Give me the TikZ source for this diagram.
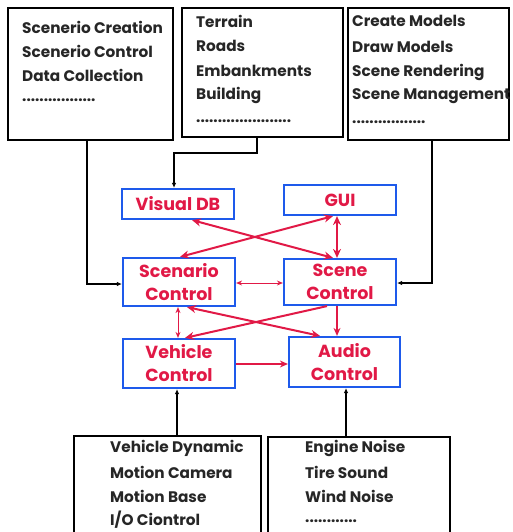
\documentclass[tikz,border=0pt]{standalone}
\usepackage{fontspec}
\setmainfont{Poppins}
\usetikzlibrary{arrows.meta}
\definecolor{rd}{RGB}{225,25,70}
\definecolor{bl}{RGB}{30,90,235}
\tikzset{
  infobox/.style={draw=black,line width=1.6pt,inner sep=0pt},
  item/.style={anchor=west,inner sep=0pt,font=\fontsize{15.3}{16}\selectfont\bfseries,text=black!85},
  modbox/.style={draw=bl,line width=2.2pt,inner sep=0pt,align=center,text=rd,font=\fontsize{17.5}{23}\selectfont\bfseries},
  blk/.style={draw=black,line width=1.2pt,-{Latex[length=5pt,width=4.5pt]}},
  rdd/.style={draw=rd,line width=2pt,{Stealth[length=9pt,width=8pt]}-{Stealth[length=9pt,width=8pt]}},
  rdt/.style={draw=rd,line width=1pt,{Stealth[length=6pt,width=5pt]}-{Stealth[length=6pt,width=5pt]}},
  rds/.style={draw=rd,line width=2pt,-{Stealth[length=9pt,width=8pt]}},
  rdst/.style={draw=rd,line width=1.2pt,-{Stealth[length=8pt,width=7pt]}},
}
\begin{document}
\begin{tikzpicture}[x=1pt,y=-1pt]
\useasboundingbox (0,0) rectangle (512,532);
% top boxes
\node[infobox,minimum width=165pt,minimum height=132pt] (tl) at (90.5,74) {};
\node[infobox,minimum width=161pt,minimum height=129pt] (tm) at (262.5,72.5) {};
\node[infobox,minimum width=161pt,minimum height=132pt] (tr) at (428.5,74) {};
\node[item] (a1) at (22,27) {Scenerio Creation};
\node[item] (a2) at (22,51) {Scenerio Control};
\node[item] (a3) at (22,75) {Data Collection};
\node[item] (a4) at (22,100) {.................};
\node[item] (b1) at (196,21) {Terrain};
\node[item] (b2) at (196,46) {Roads};
\node[item] (b3) at (196,71) {Embankments};
\node[item] (b4) at (196,95) {Building};
\node[item] (b5) at (196,121) {......................};
\node[item] (c1) at (352,21) {Create Models};
\node[item] (c2) at (352,47) {Draw Models};
\node[item] (c3) at (352,72) {Scene Rendering};
\node[item] (c4) at (352,96) {Scene Management};
\node[item] (c5) at (352,122) {.................};
% bottom boxes
\node[infobox,minimum width=187pt,minimum height=110pt] (bl) at (167.5,491) {};
\node[infobox,minimum width=182pt,minimum height=110pt] (br) at (359,492) {};
\node[item] (d1) at (110,448) {Vehicle Dynamic};
\node[item] (d2) at (110,472) {Motion Camera};
\node[item] (d3) at (110,496) {Motion Base};
\node[item] (d4) at (110,520) {I/O Ciontrol};
\node[item] (e1) at (305,448) {Engine Noise};
\node[item] (e2) at (305,472) {Tire Sound};
\node[item] (e3) at (305,496) {Wind Noise};
\node[item] (e4) at (305,521) {............};
% modules
\node[modbox,minimum width=112pt,minimum height=30pt] (vdb) at (178,204) {Visual DB};
\node[modbox,minimum width=112pt,minimum height=30pt] (gui) at (340,200) {GUI};
\node[modbox,minimum width=112pt,minimum height=48pt] (sc) at (179,282) {Scenario\\Control};
\node[modbox,minimum width=112pt,minimum height=46pt] (scn) at (340,282) {Scene\\Control};
\node[modbox,minimum width=112pt,minimum height=49pt] (vc) at (179,363.5) {Vehicle\\Control};
\node[modbox,minimum width=111pt,minimum height=50pt] (ac) at (344.5,362) {Audio\\Control};
% black connectors
\draw[blk] (tl.south -| 87,0) |- (sc.west |- 0,284);
\draw[blk] (tm.south -| 257,0) |- (174,153) -- (vdb.north -| 174,0);
\draw[blk] (tr.south -| 432,0) |- (scn.east |- 0,283);
\draw[blk] (bl.north -| 177,0) -- (vc.south -| 177,0);
\draw[blk] (br.north -| 346,0) -- (ac.south -| 346,0);
% red connectors
\draw[rdd] (vdb.south -| 192,0) -- (scn.north -| 333,0);
\draw[rdd] (gui.south -| 333,0) -- (sc.north -| 180,0);
\draw[rdd] (gui.south -| 337,0) -- (scn.north -| 337,0);
\draw[rdt] (sc.east |- 0,283) -- (scn.west |- 0,283);
\draw[rdt] (sc.south -| 178,0) -- (vc.north -| 178,0);
\draw[rdd] (sc.south -| 187,0) -- (ac.north -| 320,0);
\draw[rds] (scn.south -| 327,0) -- (vc.north -| 185,0);
\draw[rdst] (scn.south -| 337,0) -- (ac.north -| 337,0);
\draw[rdst] (vc.east |- 0,364) -- (ac.west |- 0,364);
\end{tikzpicture}
\end{document}
